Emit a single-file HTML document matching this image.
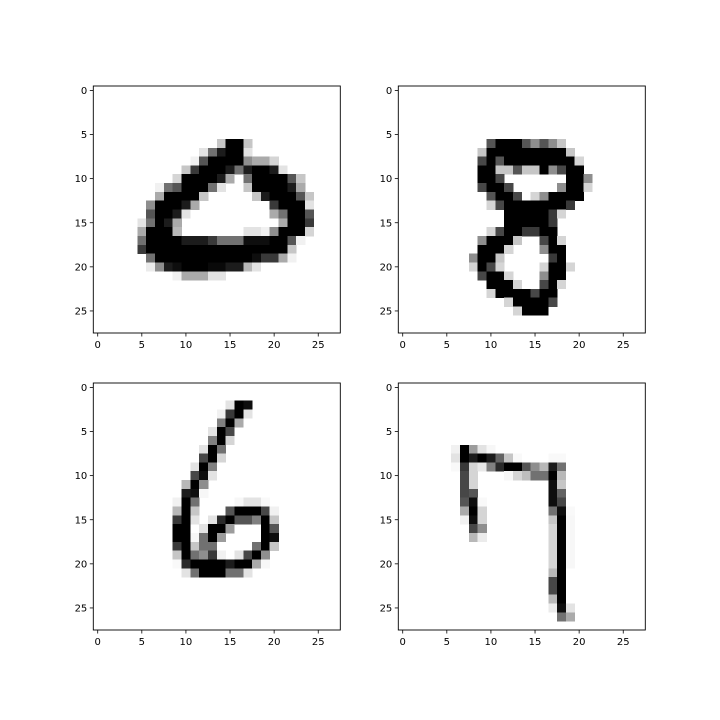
<!DOCTYPE html>
<html><head><meta charset="utf-8"><style>
html,body{margin:0;padding:0;background:#fff;}
svg{display:block;font-family:"DejaVu Sans","Liberation Sans",sans-serif;}
</style></head><body>
<svg id="fig" width="720" height="720" viewBox="0 0 720 720" xmlns="http://www.w3.org/2000/svg">
<rect width="720" height="720" fill="#fff"/>
</svg>
<script>
// Sparse pixel data per digit: "row:col=value,col=value..." intensity 0-9
const digit0 = [
"6:14=2,15=9,16=9,17=2",
"7:12=1,13=5,14=8,15=9,16=9,17=1",
"8:11=0.5,12=6,13=9,14=9,15=9,16=9,17=4,18=3,19=3,20=1.5",
"9:10=2,11=7,12=9,13=9,14=9,15=8,16=5,17=8,18=9,19=9,20=8,21=1",
"10:9=1.5,10=9,11=9,12=9,13=9,14=8,15=3,17=5,18=9,19=9,20=9,21=9,22=6,23=2",
"11:7=0.5,8=5,9=6,10=9,11=9,12=9,13=5,14=1,17=2,18=9,19=9,20=9,21=9,22=8,23=3",
"12:7=3,8=9,9=9,10=9,11=9,12=2,18=2,19=8,20=9,21=9,22=9,23=6,24=2",
"13:6=4,7=9,8=9,9=9,10=8,11=3,20=7,21=9,22=9,23=9,24=1",
"14:6=6,7=9,8=9,9=8,10=1,20=3,21=5,22=9,23=9,24=6",
"15:5=1,6=5,7=9,8=8,9=3,21=3,22=9,23=9,24=7",
"16:5=3,6=9,7=9,8=9,9=2.5,17=1,18=1,19=0.5,20=4,21=9,22=9,23=9,24=1.5",
"17:5=5,6=9,7=9,8=9,9=9,10=8,11=8,12=8,13=7,14=5,15=5,16=5,17=8.5,18=8.5,19=8.5,20=9,21=9,22=6,23=0.5",
"18:5=7,6=9,7=9,8=9,9=9,10=9,11=9,12=9,13=9,14=9,15=9,16=9,17=9,18=9,19=9,20=9,21=9,22=2",
"19:6=5,7=9,8=9,9=9,10=9,11=9,12=9,13=9,14=9,15=9,16=9,17=9,18=8.5,19=7,20=7,21=3,22=0.5",
"20:6=0.7,7=4,8=8,9=8.5,10=9,11=9,12=9,13=8.7,14=8.7,15=8,16=8,17=2.5,18=1",
"21:9=0.5,10=3,11=3,12=3,13=1,14=1"
];
const digit1 = [
"6:10=6,11=9,12=9,13=9,14=6,15=4,16=6,17=4,18=2",
"7:9=2,10=9,11=9,12=9,13=9,14=9,15=9,16=9,17=9,18=9,19=2",
"8:9=6.5,10=9,11=6,12=9,13=9,14=9,15=9,16=9,17=9,18=9,19=9,20=1.5",
"9:9=9,10=9,11=2,12=2,13=6,14=2,15=2,16=9,17=4,18=6.5,19=9,20=9",
"10:9=9,10=9,11=6.5,19=9,20=9,21=4",
"11:9=6.5,10=9,11=9,12=6.5,18=4,19=9,20=9,21=1.5",
"12:10=6,11=9,12=9,13=6.5,15=1.5,16=4,17=9,18=9,19=9,20=9",
"13:10=1.5,11=6.5,12=9,13=9,14=9,15=9,16=9,17=9,18=9,19=7",
"14:12=9,13=9,14=9,15=9,16=9,17=7,18=1.5",
"15:12=9,13=9,14=9,15=9,16=9,17=7",
"16:10=1.5,11=6.5,12=9,13=9,14=7,15=7,16=9,17=9",
"17:9=4,10=9,11=9,12=9,13=2,16=6.5,17=9,18=1.5",
"18:9=9,10=9,11=9,12=1.5,16=4,17=9,18=9",
"19:8=4,9=9,10=9,11=2,17=7,18=9",
"20:8=1.5,9=9,10=6.5,11=1.5,16=1.5,17=9,18=9,19=1.5",
"21:9=6.5,10=9,11=9,12=1.5,16=4,17=9,18=9",
"22:10=9,11=9,12=9,13=1.5,16=6.5,17=9,18=1.5",
"23:10=1.5,11=9,12=9,13=9,14=9,15=6.5,16=9,17=9",
"24:12=1.5,13=9,14=9,15=9,16=9,17=6.5",
"25:13=1.5,14=9,15=9,16=9"
];
const digit2 = [
"2:15=1,16=9,17=8.5",
"3:14=0.5,15=7,16=9,17=1",
"4:14=4.5,15=9,16=3",
"5:13=1,14=9,15=6.5",
"6:13=4.5,14=9,15=1.5",
"7:12=1,13=9,14=5",
"8:12=6.5,13=9,14=1.5",
"9:11=1,12=9,13=4.5",
"10:11=6.5,12=8.5,13=1",
"11:10=2.5,11=9,12=4",
"12:10=8,11=8.5,12=0.3",
"13:9=0.5,10=9,11=5,16=0.3,17=1,18=1,19=0.2",
"14:9=2.5,10=9,11=2,15=6,16=9,17=9,18=9,19=6.5,20=0.5",
"15:9=7,10=9,11=1,13=1,14=7.5,15=9,16=6,17=6,18=4.5,19=9,20=2",
"16:9=9,10=9,12=1,13=9,14=9,15=3.5,19=9,20=6",
"17:9=9,10=9,11=0.3,12=5,13=9,14=3.5,19=9,20=8.5",
"18:9=7,10=9,11=2,12=5,13=5,18=5,19=9,20=2",
"19:9=2,10=9,11=5,12=4,13=7,14=0.5,16=1,17=6.5,18=9,19=4",
"20:9=0.2,10=7.5,11=9,12=9,13=9,14=9,15=8,16=9,17=9,18=3,19=0.3",
"21:10=1,11=5,12=9,13=9,14=9,15=5,16=5,17=1"
];
const digit3 = [
"7:6=0.5,7=9,8=3.5,9=1,10=0.3",
"8:6=1,7=9,8=8,9=9,10=8,11=5.5,12=2,13=0.2,17=0.2,18=0.2",
"9:6=0.2,7=7,8=1.5,9=0.8,10=4.5,11=7.5,12=9,13=9,14=6,15=4,16=2.5,17=8,18=5",
"10:7=6.5,8=1.5,12=0.3,13=1.5,14=2.3,15=5,16=5,17=9,18=2.5",
"11:7=6.5,8=1.5,17=8.5,18=2",
"12:7=6.5,8=6,17=8.5,18=5.5",
"13:7=6,8=8.5,9=0.2,17=8.5,18=6.5",
"14:7=3,8=9,9=1.5,17=5,18=8.5,19=0.2",
"15:7=0.5,8=8.5,9=1.5,17=2,18=9,19=0.3",
"16:8=6.5,9=4,17=1.5,18=9,19=0.3",
"17:8=2.5,9=0.7,17=1.5,18=9,19=0.3",
"18:17=1.5,18=9,19=0.3",
"19:17=1.5,18=9,19=0.3",
"20:17=1.5,18=9,19=0.3",
"21:17=2.5,18=9",
"22:17=6.5,18=9",
"23:17=6.5,18=9",
"24:17=2.5,18=9",
"25:17=0.7,18=8.5,19=1",
"26:18=5,19=3"
];
const digits = [digit0, digit1, digit2, digit3];
const tickValues = [0, 5, 10, 15, 20, 25];
const panelOrigins = [[93.3, 86], [398.3, 86], [93.3, 383], [398.3, 383]];
const N = 28, SIZE = 247;

const NS = "http://www.w3.org/2000/svg";
const svg = document.getElementById("fig");
function mk(tag, attrs, parent) {
  const e = document.createElementNS(NS, tag);
  for (const k in attrs) e.setAttribute(k, attrs[k]);
  parent.appendChild(e);
  return e;
}
const cell = SIZE / N;
digits.forEach((dg, i) => {
  const [x0, y0] = panelOrigins[i];
  const sx = v => x0 + (v + 0.5) * cell;
  const sy = v => y0 + (v + 0.5) * cell;
  const g = mk("g", {}, svg);
  
  
  const img = mk("g", {"shape-rendering": "crispEdges"}, g);
  
  
  dg.forEach(line => {
    const [rs, rest] = line.split(":");
    const r = +rs;
    rest.split(",").forEach(p => {
      const [cs, vs] = p.split("=");
      const c = +cs, v = Math.min(1, +vs / 9);
      const gv = Math.round(255 * (1 - v));
      const px = mk("rect", {x: sx(c) - cell / 2, y: sy(r) - cell / 2, width: cell + 0.3, height: cell + 0.3, fill: `rgb(${gv},${gv},${gv})`}, img);
      
      
    });
  });
  const frame = mk("rect", {x: x0, y: y0, width: SIZE, height: SIZE, fill: "none", stroke: "#000", "stroke-width": 0.9}, g);
  
  
  tickValues.forEach(t => {
    const xt = mk("line", {x1: sx(t), x2: sx(t), y1: y0 + SIZE, y2: y0 + SIZE + 3.5, stroke: "#000", "stroke-width": 0.8}, g);
    
    
    const xl = mk("text", {x: sx(t), y: y0 + SIZE + 15, "font-size": 10, "text-anchor": "middle", fill: "#000"}, g);
    xl.textContent = t;
    
    
    const yt = mk("line", {x1: x0 - 3.5, x2: x0, y1: sy(t), y2: sy(t), stroke: "#000", "stroke-width": 0.8}, g);
    
    
    const yl = mk("text", {x: x0 - 6, y: sy(t) + 3.6, "font-size": 10, "text-anchor": "end", fill: "#000"}, g);
    yl.textContent = t;
    
    
  });
});
</script>
</body></html>
